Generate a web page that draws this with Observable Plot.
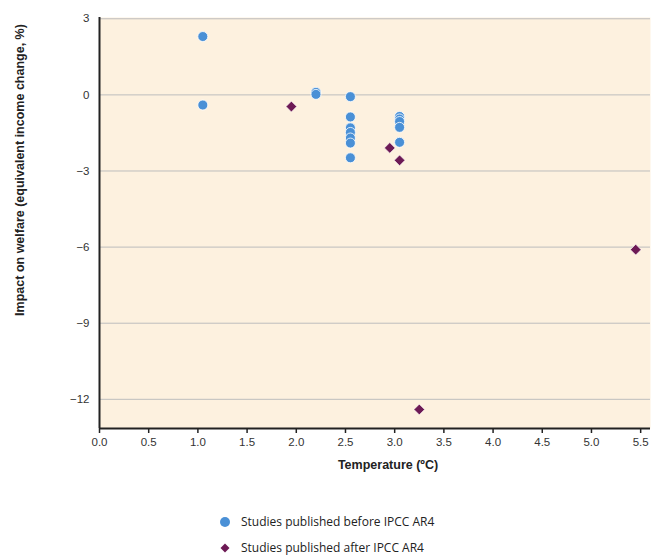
<!DOCTYPE html>
<html><head><meta charset="utf-8">
<script src="https://cdn.jsdelivr.net/npm/d3@7"></script>
<script src="https://cdn.jsdelivr.net/npm/@observablehq/plot@0.6"></script>
<style>
body{margin:0;background:#fff;font-family:"Liberation Sans Narrow","Arial Narrow","Open Sans",sans-serif;}
#wrap{position:relative;width:651px;height:557px;}
.leg{position:absolute;left:218px;font-size:12px;color:#222;display:flex;align-items:center;}
.leg svg{margin-right:9px;}
</style></head><body>
<div id="wrap"></div>
<script>
const beforeTemp = [1.05, 1.05, 2.2, 2.2, 2.55, 2.55, 2.55, 2.55, 2.55, 2.55, 2.55, 3.05, 3.05, 3.05, 3.05, 3.05];
const beforeImpact = [2.3, -0.4, 0.1, 0.02, -0.07, -0.87, -1.3, -1.48, -1.7, -1.9, -2.48, -0.85, -0.95, -1.05, -1.28, -1.87];
const afterTemp = [1.95, 2.95, 3.05, 3.25, 5.45];
const afterImpact = [-0.46, -2.09, -2.58, -12.4, -6.1];
const xTicks = [0, 0.5, 1, 1.5, 2, 2.5, 3, 3.5, 4, 4.5, 5, 5.5];
const yTicks = [3, 0, -3, -6, -9, -12];
const seriesNames = ["Studies published before IPCC AR4", "Studies published after IPCC AR4"];
const blue = "#4a90d6", purple = "#6d1a55";

const before = beforeTemp.map((t, i) => ({t, v: beforeImpact[i]}));
const after = afterTemp.map((t, i) => ({t, v: afterImpact[i]}));

const chart = Plot.plot({
  width: 651, height: 480,
  marginLeft: 99, marginRight: 1, marginTop: 17, marginBottom: 52,
  style: {fontFamily: '"Liberation Sans Narrow","Arial Narrow",sans-serif', fontSize: "11.5px", color: "#333", background: "#fff", overflow: "visible"},
  x: {domain: [0, 5.6]},
  y: {domain: [-13.15, 3.05]},
  marks: [
    Plot.frame({fill: "#fdf1df", stroke: null}),
    Plot.ruleY(yTicks, {stroke: "#bdbdbd", strokeWidth: 1}),
    Plot.axisY({ticks: yTicks, tickSize: 0, tickPadding: 10, label: null, tickFormat: d => d < 0 ? "\u2212" + Math.abs(d) : d}),
    Plot.axisX({ticks: xTicks, tickSize: 5, tickPadding: 4, tickFormat: d3.format(".1f"), label: null, stroke: "#222", strokeWidth: 1.5}),
    Plot.ruleX([0], {stroke: "#222", strokeWidth: 2}),
    Plot.ruleY([-13.15], {stroke: "#222", strokeWidth: 2}),
    Plot.dot(before, {x: "t", y: "v", r: 5, fill: blue, stroke: "#fff", strokeWidth: 1, strokeOpacity: 0.8}),
    Plot.dot(after, {x: "t", y: "v", symbol: "diamond2", r: 4.8, fill: purple, stroke: "#fff", strokeWidth: 0.6}),
    Plot.text(["Temperature (ºC)"], {frameAnchor: "bottom", dx: 13, dy: 40, fontWeight: "bold", fontSize: 12.5, fill: "#222"}),
    Plot.text(["Impact on welfare (equivalent income change, %)"], {frameAnchor: "left", textAnchor: "middle", dx: -80, dy: -53, rotate: -90, fontWeight: "bold", fontSize: 12.5, fill: "#222"})
  ]
});
const wrap = document.getElementById("wrap");
wrap.appendChild(chart);

const leg1 = document.createElement("div");
leg1.className = "leg"; leg1.style.top = "513px";
leg1.innerHTML = `<svg width="14" height="14"><circle cx="7" cy="7" r="5" fill="${blue}"/></svg><span>${seriesNames[0]}</span>`;
const leg2 = document.createElement("div");
leg2.className = "leg"; leg2.style.top = "539px";
leg2.innerHTML = `<svg width="14" height="14"><path d="M7 2.5 L11.5 7 L7 11.5 L2.5 7 Z" fill="${purple}"/></svg><span>${seriesNames[1]}</span>`;
wrap.appendChild(leg1); wrap.appendChild(leg2);
</script>
</body></html>
